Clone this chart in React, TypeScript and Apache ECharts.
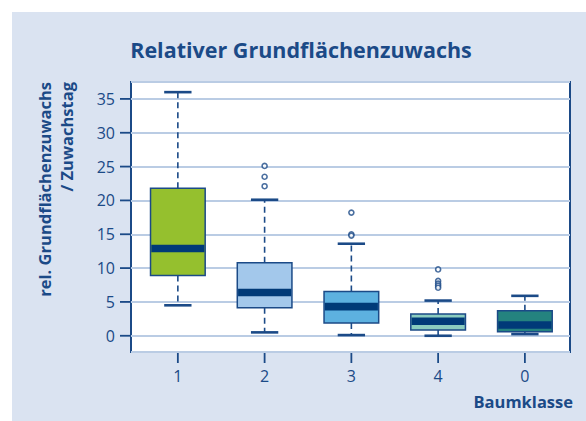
import React, { useEffect, useRef } from "react";
import * as echarts from "echarts";

const categories = ["1", "2", "3", "4", "0"];
const whiskerLow = [4.5, 0.5, 0.1, 0.0, 0.25];
const q1 = [8.9, 4.15, 1.9, 0.85, 0.6];
const median = [12.9, 6.4, 4.3, 2.15, 1.6];
const q3 = [21.8, 10.8, 6.55, 3.2, 3.7];
const whiskerHigh = [36.0, 20.1, 13.6, 5.2, 5.9];
const boxColors = ["#95C02E", "#A3C8EB", "#5DB1E0", "#8ACCBF", "#24837F"];
const outlierCategory = [2, 2, 2, 3, 3, 3, 4, 4, 4, 4, 4];
const outlierValue = [25.1, 23.5, 22.1, 18.2, 15.0, 14.8, 9.8, 8.1, 7.7, 7.4, 7.1];
const yTicks = [0, 5, 10, 15, 20, 25, 30, 35];

const DARK = "#1B4A87";
const NAVY = "#003A78";
const FONT = "Open Sans";
const TICK = 10;
const X_MIN = 0.46;
const X_MAX = 5.52;
const Y_MIN = -2.4;
const Y_MAX = 37.5;

export default function App() {
  const ref = useRef<HTMLDivElement>(null);
  useEffect(() => {
    if (!ref.current) return;
    const chart = echarts.init(ref.current, null, { renderer: "svg" });
    const boxData = categories.map((_, i) => [
      i + 1,
      whiskerLow[i],
      q1[i],
      median[i],
      q3[i],
      whiskerHigh[i],
    ]);
    const outliers = outlierCategory.map((c, i) => [c, outlierValue[i]]);

    const renderBox = (params: any, api: any) => {
      const x = api.value(0);
      const band = api.size([1, 0])[0];
      const bw = band * 0.63;
      const cw = bw / 2;
      const pLow = api.coord([x, api.value(1)]);
      const pQ1 = api.coord([x, api.value(2)]);
      const pMed = api.coord([x, api.value(3)]);
      const pQ3 = api.coord([x, api.value(4)]);
      const pHigh = api.coord([x, api.value(5)]);
      const cx = pQ1[0];
      const idx = params.dataIndex;
      return {
        type: "group",
        children: [
          {
            type: "line",
            shape: { x1: cx, y1: pQ3[1], x2: cx, y2: pHigh[1] },
            style: { stroke: DARK, lineWidth: 1.6, lineDash: [6, 4] },
          },
          {
            type: "line",
            shape: { x1: cx, y1: pQ1[1], x2: cx, y2: pLow[1] },
            style: { stroke: DARK, lineWidth: 1.6, lineDash: [6, 4] },
          },
          {
            type: "line",
            shape: { x1: cx - cw / 2, y1: pHigh[1], x2: cx + cw / 2, y2: pHigh[1] },
            style: { stroke: DARK, lineWidth: 2.6 },
          },
          {
            type: "line",
            shape: { x1: cx - cw / 2, y1: pLow[1], x2: cx + cw / 2, y2: pLow[1] },
            style: { stroke: DARK, lineWidth: 2.6 },
          },
          {
            type: "rect",
            shape: { x: cx - bw / 2, y: pQ3[1], width: bw, height: pQ1[1] - pQ3[1] },
            style: { fill: boxColors[idx], stroke: DARK, lineWidth: 1.5 },
          },
          {
            type: "rect",
            shape: { x: cx - bw / 2 + 0.8, y: pMed[1] - 3.8, width: bw - 1.6, height: 7.6 },
            style: { fill: NAVY },
          },
        ],
      };
    };

    const baseGraphic: any[] = [
      {
        type: "rect",
        shape: { x: 0, y: 0, width: 586, height: 12 },
        style: { fill: "#FFFFFF" },
        silent: true,
      },
      {
        type: "rect",
        shape: { x: 0, y: 0, width: 12, height: 421 },
        style: { fill: "#FFFFFF" },
        silent: true,
      },
      {
        type: "text",
        x: 44.5,
        y: 82,
        rotation: Math.PI / 2,
        style: {
          text: "rel. Grundflächenzuwachs",
          fill: DARK,
          font: `bold 16.5px '${FONT}'`,
          align: "right",
          verticalAlign: "middle",
        },
      },
      {
        type: "text",
        x: 66,
        y: 82,
        rotation: Math.PI / 2,
        style: {
          text: "/ Zuwachstag",
          fill: DARK,
          font: `bold 16.5px '${FONT}'`,
          align: "right",
          verticalAlign: "middle",
        },
      },
      {
        type: "text",
        x: 573,
        y: 401,
        style: {
          text: "Baumklasse",
          fill: DARK,
          font: `bold 16.5px '${FONT}'`,
          align: "right",
          verticalAlign: "middle",
        },
      },
    ];

    chart.setOption({
      animation: false,
      backgroundColor: "#DAE3F1",
      graphic: baseGraphic,
      title: {
        text: "Relativer Grundflächenzuwachs",
        left: 296,
        textAlign: "center",
        top: 33,
        textStyle: {
          color: DARK,
          fontFamily: FONT,
          fontWeight: "bold",
          fontSize: 21.5,
        },
      },
      grid: {
        left: 131,
        top: 82,
        right: 16,
        bottom: 69,
        show: true,
        backgroundColor: "#FFFFFF",
        borderColor: DARK,
        borderWidth: 2,
      },
      xAxis: {
        type: "value",
        min: X_MIN,
        max: X_MAX,
        axisLine: { show: false, onZero: false },
        axisTick: { show: false },
        axisLabel: {
          color: DARK,
          fontFamily: FONT,
          fontSize: 16,
          margin: 16,
          showMinLabel: false,
          showMaxLabel: false,
          formatter: (v: number) => categories[Math.round(v) - 1] ?? "",
        },
        splitLine: { show: false },
      },
      yAxis: {
        type: "value",
        min: Y_MIN,
        max: Y_MAX,
        splitNumber: 8,
        axisLine: { show: false, onZero: false },
        axisTick: { show: false },
        axisLabel: {
          color: DARK,
          fontFamily: FONT,
          fontSize: 16,
          margin: 16,
          showMinLabel: false,
          showMaxLabel: false,
        },
        splitLine: { show: true, lineStyle: { color: "#BACCE4", width: 1.8 } },
      },
      series: [
        {
          type: "custom",
          renderItem: renderBox,
          data: boxData,
          encode: { x: 0, y: [1, 2, 3, 4, 5] },
          z: 3,
        },
        {
          type: "scatter",
          data: outliers,
          symbol: "circle",
          symbolSize: 5,
          itemStyle: { color: "#FFFFFF", borderColor: DARK, borderWidth: 1.6 },
          z: 4,
        },
      ],
    });

    // Tick marks placed through the chart's own axis scales (thin filled rects)
    const left = chart.convertToPixel({ xAxisIndex: 0 }, X_MIN) as number;
    const bottom = chart.convertToPixel({ yAxisIndex: 0 }, Y_MIN) as number;
    const tickEls: any[] = [];
    yTicks.forEach((v) => {
      const py = chart.convertToPixel({ yAxisIndex: 0 }, v) as number;
      tickEls.push({
        type: "rect",
        shape: { x: left - 1 - TICK, y: py - 0.9, width: TICK, height: 1.8 },
        style: { fill: DARK },
        silent: true,
        z: 100,
      });
    });
    categories.forEach((_, i) => {
      const px = chart.convertToPixel({ xAxisIndex: 0 }, i + 1) as number;
      tickEls.push({
        type: "rect",
        shape: { x: px - 0.9, y: bottom + 1, width: 1.8, height: TICK },
        style: { fill: DARK },
        silent: true,
        z: 100,
      });
    });
    chart.setOption({ graphic: baseGraphic.concat(tickEls) });

    return () => chart.dispose();
  }, []);
  return (
    <div
      ref={ref}
      style={{ position: "fixed", left: 0, top: 0, width: 586, height: 421 }}
    />
  );
}
